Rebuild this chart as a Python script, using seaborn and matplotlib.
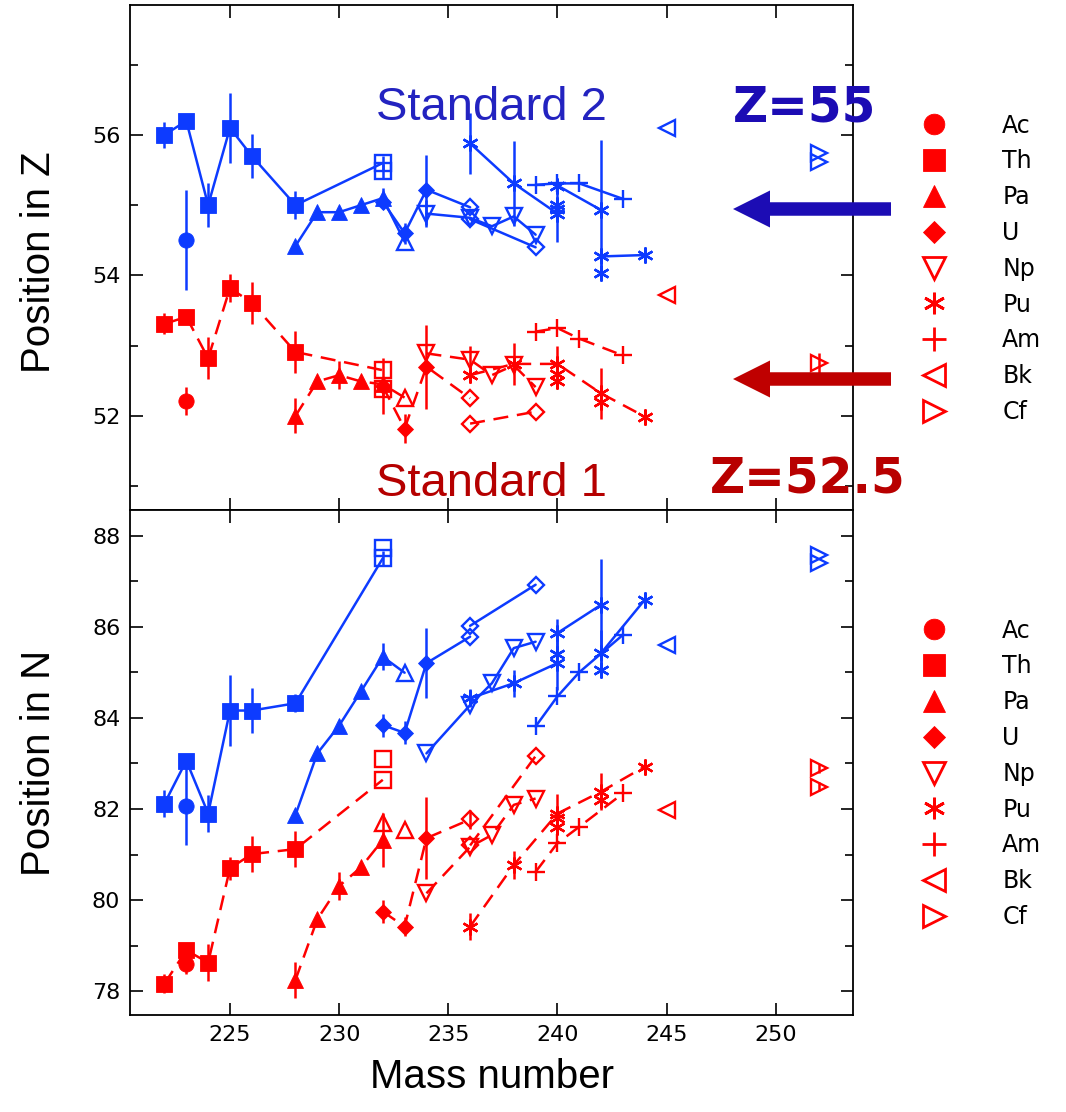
import matplotlib
matplotlib.use("Agg")
import matplotlib.pyplot as plt
import seaborn as sns
import pandas as pd
from matplotlib.lines import Line2D
from matplotlib.patches import FancyArrow
from matplotlib.ticker import MultipleLocator

sns.set_style("ticks")
plt.rcParams["font.family"] = ["DejaVu Sans"]
plt.rcParams["text.color"] = "black"
plt.rcParams["axes.labelcolor"] = "black"
plt.rcParams["xtick.color"] = "black"
plt.rcParams["ytick.color"] = "black"

# ------------------------------------------------------------------ data
elements = ["Ac", "Th", "Pa", "U", "Np", "Pu", "Am", "Bk", "Cf"]
x_ticks = [225, 230, 235, 240, 245, 250]
z_ticks = [52, 54, 56]
n_ticks = [78, 80, 82, 84, 86, 88]

# ---- Position in Z, Standard 2 (blue)
zb_th_m = [222, 223, 224, 225, 226, 228, 232]
zb_th_v = [56.0, 56.2, 55.0, 56.1, 55.7, 55.0, 55.6]
zb_th_e = [0.18, 0, 0.31, 0.5, 0.31, 0.2, 0.1]
zb_th_o = [0, 0, 0, 0, 0, 0, 1]
zb_th2_m, zb_th2_v, zb_th2_e = [232], [55.48], [0.1]
zb_ac_m, zb_ac_v, zb_ac_e = [223], [54.5], [0.71]
zb_pa_m = [228, 229, 230, 231, 232, 233]
zb_pa_v = [54.42, 54.9, 54.9, 55.0, 55.1, 54.48]
zb_pa_e = [0, 0, 0, 0, 0.15, 0]
zb_pa_o = [0, 0, 0, 0, 0, 1]
zb_u_m = [232, 233, 234, 236]
zb_u_v = [55.05, 54.6, 55.22, 54.97]
zb_u_e = [0, 0.15, 0.5, 0]
zb_u_o = [0, 0, 0, 1]
zb_u2_m, zb_u2_v = [236, 239], [54.8, 54.4]
zb_np_m = [234, 236, 237, 238, 239]
zb_np_v = [54.88, 54.82, 54.7, 54.84, 54.58]
zb_np_e = [0.19, 0, 0, 0, 0]
zb_pu_m, zb_pu_v, zb_pu_e = [236, 238, 240], [55.88, 55.31, 54.88], [0.43, 0.6, 0.4]
zb_pu2_m, zb_pu2_v, zb_pu2_e = [240, 242], [55.28, 54.93], [0, 1.0]
zb_pu3_m, zb_pu3_v = [242, 244], [54.27, 54.29]
zb_pu4_m, zb_pu4_v = [240, 240, 242], [55.0, 54.95, 54.03]
zb_am_m, zb_am_v = [239, 240, 241, 243], [55.29, 55.31, 55.31, 55.09]
zb_bk_m, zb_bk_v = [245], [56.1]
zb_cf_m, zb_cf_v = [252, 252], [55.74, 55.62]

# ---- Position in Z, Standard 1 (red)
zr_th_m = [222, 223, 224, 225, 226, 228, 232]
zr_th_v = [53.31, 53.41, 52.82, 53.82, 53.61, 52.91, 52.65]
zr_th_e = [0.15, 0, 0.3, 0.2, 0.3, 0.3, 0]
zr_th_o = [0, 0, 0, 0, 0, 0, 1]
zr_th2_m, zr_th2_v, zr_th2_e = [232], [52.38], [0.1]
zr_ac_m, zr_ac_v, zr_ac_e = [223], [52.21], [0.2]
zr_pa_m = [228, 229, 230, 231, 232, 233]
zr_pa_v = [52.0, 52.49, 52.58, 52.49, 52.45, 52.26]
zr_pa_e = [0.25, 0, 0.2, 0, 0, 0]
zr_pa_o = [0, 0, 0, 0, 0, 1]
zr_u_m = [232, 233, 234, 236]
zr_u_v = [52.42, 51.82, 52.7, 52.25]
zr_u_e = [0.4, 0.2, 0.6, 0]
zr_u_o = [0, 0, 0, 1]
zr_u2_m, zr_u2_v = [236, 239], [51.89, 52.06]
zr_np_m = [234, 236, 237, 238, 239]
zr_np_v = [52.89, 52.8, 52.58, 52.72, 52.41]
zr_np_e = [0, 0.2, 0, 0, 0]
zr_pu_m = [236, 238, 240, 242, 244]
zr_pu_v = [52.58, 52.74, 52.74, 52.32, 51.99]
zr_pu_e = [0, 0.3, 0.25, 0.36, 0]
zr_pu2_m, zr_pu2_v = [240, 240, 242], [52.6, 52.5, 52.2]
zr_am_m, zr_am_v = [239, 240, 241, 243], [53.2, 53.25, 53.1, 52.86]
zr_bk_m, zr_bk_v = [245], [53.72]
zr_cf_m, zr_cf_v, zr_cf_e = [252], [52.75], [0.15]

# ---- Position in N, Standard 2 (blue)
nb_th_m = [222, 223, 224, 225, 226, 228, 232]
nb_th_v = [82.12, 83.06, 81.9, 84.16, 84.16, 84.32, 87.5]
nb_th_e = [0.3, 0, 0.4, 0.77, 0.5, 0.2, 0.15]
nb_th_o = [0, 0, 0, 0, 0, 0, 1]
nb_th2_m, nb_th2_v = [232], [87.72]
nb_ac_m, nb_ac_v, nb_ac_e = [223], [82.07], [0.87]
nb_pa_m = [228, 229, 230, 231, 232, 233]
nb_pa_v = [81.87, 83.22, 83.83, 84.58, 85.34, 84.99]
nb_pa_e = [0, 0, 0, 0, 0.3, 0]
nb_pa_o = [0, 0, 0, 0, 0, 1]
nb_u_m = [232, 233, 234, 236]
nb_u_v = [83.84, 83.67, 85.2, 85.78]
nb_u_e = [0.25, 0.25, 0.77, 0]
nb_u_o = [0, 0, 0, 1]
nb_u2_m, nb_u2_v = [236, 239], [86.02, 86.92]
nb_np_m = [234, 236, 237, 238, 239]
nb_np_v = [83.22, 84.28, 84.76, 85.53, 85.67]
nb_pu_m, nb_pu_v, nb_pu_e = [236, 238, 240], [84.43, 84.76, 85.2], [0.2, 0.3, 0.6]
nb_pu2_m, nb_pu2_v, nb_pu2_e = [240, 242], [85.86, 86.48], [0.3, 1.0]
nb_pu3_m, nb_pu3_v, nb_pu3_e = [242, 244], [85.42, 86.59], [0.5, 0]
nb_pu4_m, nb_pu4_v = [240, 242], [85.4, 85.05]
nb_am_m, nb_am_v = [239, 240, 241, 243], [83.81, 84.47, 85.0, 85.82]
nb_bk_m, nb_bk_v = [245], [85.6]
nb_cf_m, nb_cf_v = [252, 252], [87.58, 87.39]

# ---- Position in N, Standard 1 (red)
nr_th_m = [222, 223, 224, 225, 226, 228, 232]
nr_th_v = [78.17, 78.9, 78.63, 80.7, 81.01, 81.12, 82.64]
nr_th_e = [0.2, 0, 0.4, 0.25, 0.4, 0.4, 0]
nr_th_o = [0, 0, 0, 0, 0, 0, 1]
nr_th2_m, nr_th2_v = [232], [83.09]
nr_ac_m, nr_ac_v, nr_ac_e = [223], [78.59], [0.2]
nr_pa_m = [228, 229, 230, 231, 232]
nr_pa_v = [78.25, 79.58, 80.31, 80.72, 81.32]
nr_pa_e = [0.4, 0, 0.3, 0, 0.6]
nr_pa2_m, nr_pa2_v = [232, 233], [81.69, 81.54]
nr_u_m = [232, 233, 234, 236]
nr_u_v = [79.75, 79.42, 81.36, 81.77]
nr_u_e = [0.25, 0.2, 0.9, 0.2]
nr_u_o = [0, 0, 0, 1]
nr_u2_m, nr_u2_v = [236, 239], [81.2, 83.16]
nr_np_m = [234, 236, 237, 238, 239]
nr_np_v = [80.15, 81.17, 81.43, 82.09, 82.23]
nr_pu_m = [236, 238, 240, 242, 244]
nr_pu_v = [79.42, 80.77, 81.9, 82.38, 82.93]
nr_pu_e = [0.3, 0.3, 0.42, 0.4, 0]
nr_pu2_m, nr_pu2_v = [240, 240, 242], [81.8, 81.6, 82.2]
nr_am_m, nr_am_v = [239, 240, 241, 243], [80.62, 81.25, 81.61, 82.34]
nr_bk_m, nr_bk_v = [245], [81.98]
nr_cf_m, nr_cf_v, nr_cf_e = [252, 252], [82.89, 82.49], [0.1, 0.1]

# ------------------------------------------------------------------ styles
BLUE = "#0d3bff"
RED = "#ff0000"
LW = 1.8
DASH = (0, (6, 3.5))
AST = (6, 2, 0)
MARK = {"Ac": ("o", 11), "Th": ("s", 11.5), "Pa": ("^", 12), "U": ("D", 8.5),
        "Np": ("v", 11.5), "Pu": (AST, 11.5), "Am": ("+", 12.5), "Bk": ("<", 11.5),
        "Cf": (">", 11.5)}
OPEN_EL = {"Np", "Bk", "Cf"}


def S(el, m, v, e=None, o=None, line=True):
    if o is None:
        o = [1 if el in OPEN_EL else 0] * len(m)
    return dict(el=el, m=m, v=v, e=e, o=o, line=line)


top_blue = [
    S("Th", zb_th_m, zb_th_v, zb_th_e, zb_th_o),
    S("Th", zb_th2_m, zb_th2_v, zb_th2_e, [1], line=False),
    S("Ac", zb_ac_m, zb_ac_v, zb_ac_e),
    S("Pa", zb_pa_m, zb_pa_v, zb_pa_e, zb_pa_o),
    S("U", zb_u_m, zb_u_v, zb_u_e, zb_u_o),
    S("U", zb_u2_m, zb_u2_v, None, [1, 1]),
    S("Np", zb_np_m, zb_np_v, zb_np_e),
    S("Pu", zb_pu_m, zb_pu_v, zb_pu_e),
    S("Pu", zb_pu2_m, zb_pu2_v, zb_pu2_e),
    S("Pu", zb_pu3_m, zb_pu3_v),
    S("Pu", zb_pu4_m, zb_pu4_v, line=False),
    S("Am", zb_am_m, zb_am_v),
    S("Bk", zb_bk_m, zb_bk_v),
    S("Cf", zb_cf_m, zb_cf_v, line=False),
]
top_red = [
    S("Th", zr_th_m, zr_th_v, zr_th_e, zr_th_o),
    S("Th", zr_th2_m, zr_th2_v, zr_th2_e, [1], line=False),
    S("Ac", zr_ac_m, zr_ac_v, zr_ac_e),
    S("Pa", zr_pa_m, zr_pa_v, zr_pa_e, zr_pa_o),
    S("U", zr_u_m, zr_u_v, zr_u_e, zr_u_o),
    S("U", zr_u2_m, zr_u2_v, None, [1, 1]),
    S("Np", zr_np_m, zr_np_v, zr_np_e),
    S("Pu", zr_pu_m, zr_pu_v, zr_pu_e),
    S("Pu", zr_pu2_m, zr_pu2_v, line=False),
    S("Am", zr_am_m, zr_am_v),
    S("Bk", zr_bk_m, zr_bk_v),
    S("Cf", zr_cf_m, zr_cf_v, zr_cf_e),
]
bot_blue = [
    S("Th", nb_th_m, nb_th_v, nb_th_e, nb_th_o),
    S("Th", nb_th2_m, nb_th2_v, None, [1], line=False),
    S("Ac", nb_ac_m, nb_ac_v, nb_ac_e),
    S("Pa", nb_pa_m, nb_pa_v, nb_pa_e, nb_pa_o),
    S("U", nb_u_m, nb_u_v, nb_u_e, nb_u_o),
    S("U", nb_u2_m, nb_u2_v, None, [1, 1]),
    S("Np", nb_np_m, nb_np_v),
    S("Pu", nb_pu_m, nb_pu_v, nb_pu_e),
    S("Pu", nb_pu2_m, nb_pu2_v, nb_pu2_e),
    S("Pu", nb_pu3_m, nb_pu3_v, nb_pu3_e),
    S("Pu", nb_pu4_m, nb_pu4_v, line=False),
    S("Am", nb_am_m, nb_am_v),
    S("Bk", nb_bk_m, nb_bk_v),
    S("Cf", nb_cf_m, nb_cf_v, line=False),
]
bot_red = [
    S("Th", nr_th_m, nr_th_v, nr_th_e, nr_th_o),
    S("Th", nr_th2_m, nr_th2_v, None, [1], line=False),
    S("Ac", nr_ac_m, nr_ac_v, nr_ac_e),
    S("Pa", nr_pa_m, nr_pa_v, nr_pa_e),
    S("Pa", nr_pa2_m, nr_pa2_v, None, [1, 1], line=False),
    S("U", nr_u_m, nr_u_v, nr_u_e, nr_u_o),
    S("U", nr_u2_m, nr_u2_v, None, [1, 1]),
    S("Np", nr_np_m, nr_np_v),
    S("Pu", nr_pu_m, nr_pu_v, nr_pu_e),
    S("Pu", nr_pu2_m, nr_pu2_v, line=False),
    S("Am", nr_am_m, nr_am_v),
    S("Bk", nr_bk_m, nr_bk_v),
    S("Cf", nr_cf_m, nr_cf_v, nr_cf_e, line=False),
]


def draw(ax, s, color, ls):
    m, v, e, o = s["m"], s["v"], s["e"], s["o"]
    if s["line"] and len(m) > 1:
        df = pd.DataFrame({"mass": m, "pos": v})
        sns.lineplot(data=df, x="mass", y="pos", ax=ax, estimator=None,
                     sort=False, color=color, lw=LW, linestyle=ls, zorder=2)
    if e is not None and any(e):
        ax.errorbar(m, v, yerr=e, fmt="none", ecolor=color, elinewidth=LW,
                    capsize=0, zorder=2)
    mk, ms = MARK[s["el"]]
    for flag in (0, 1):
        idx = [i for i in range(len(m)) if o[i] == flag]
        if not idx:
            continue
        unfilled = mk in ("+", AST)
        ax.plot([m[i] for i in idx], [v[i] for i in idx], ls="none", marker=mk,
                ms=ms, color=color, mfc=("none" if flag else color), mec=color,
                mew=(1.7 if (flag or unfilled) else 0.6), zorder=3)


# ------------------------------------------------------------------ figure
W, H = 1066, 1112
fig = plt.figure(figsize=(W / 100, H / 100), dpi=100)
ax1 = fig.add_axes([130 / W, 1 - 510 / H, 723 / W, 505 / H])
ax2 = fig.add_axes([130 / W, 1 - 1015 / H, 723 / W, 505 / H])

for s in top_red:
    draw(ax1, s, RED, DASH)
for s in top_blue:
    draw(ax1, s, BLUE, "-")
for s in bot_red:
    draw(ax2, s, RED, DASH)
for s in bot_blue:
    draw(ax2, s, BLUE, "-")

for ax in (ax1, ax2):
    ax.set_xlim(220.42, 253.54)
    ax.set_xticks(x_ticks)
    ax.tick_params(which="both", direction="in", top=True, right=True,
                   width=1.2, labelsize=16, pad=7, colors="black")
    ax.tick_params(which="major", length=9)
    ax.tick_params(which="minor", length=6)
    ax.yaxis.set_minor_locator(MultipleLocator(1))
    for sp in ax.spines.values():
        sp.set_linewidth(1.3)
        sp.set_color("black")

ax1.set_ylim(50.66, 57.85)
ax1.set_yticks(z_ticks)
ax1.tick_params(axis="x", labelbottom=False)
ax1.set_xlabel("")
ax2.set_ylim(77.48, 88.56)
ax2.set_yticks(n_ticks)

lab_font = dict(family=["Liberation Sans", "DejaVu Sans"], fontsize=29,
                color="black")
ax1.set_ylabel("Position in Z", **lab_font)
ax2.set_ylabel("Position in N", **lab_font)
ax2.set_xlabel("Mass number", **lab_font)
ax1.yaxis.set_label_coords(-0.10, 0.49)
ax2.yaxis.set_label_coords(-0.10, 0.50)
ax2.xaxis.set_label_coords(0.50, -0.085)

# legends
for ax in (ax1, ax2):
    handles = []
    for el in elements:
        mk, ms = MARK[el]
        op = el in OPEN_EL
        handles.append(Line2D([], [], ls="none", marker=mk, ms=ms * 1.35,
                              color=RED, mec=RED,
                              mfc=("none" if op else RED),
                              mew=(2.0 if (op or mk in ("+", AST)) else 0.6)))
    ax.legend(handles, elements, loc="upper left", bbox_to_anchor=(1.079, 0.785),
              frameon=False, borderaxespad=0, borderpad=0, handlelength=2.0,
              handletextpad=1.9, labelspacing=0.5, fontsize=17,
              labelcolor="black")

# annotations
ax1.text(237.0, 56.21, "Standard 2", color="#2323c0", fontsize=34,
         family=["Liberation Sans", "DejaVu Sans"], ha="center", va="baseline")
ax1.text(237.0, 50.86, "Standard 1", color="#b50000", fontsize=34,
         family=["Liberation Sans", "DejaVu Sans"], ha="center", va="baseline")
fig.text(805 / W, 1 - 122 / H, "Z=55", fontsize=35, weight="bold",
         color="#1c0cb4", ha="center", va="baseline")
fig.text(808 / W, 1 - 494 / H, "Z=52.5", fontsize=35, weight="bold",
         color="#b80000", ha="center", va="baseline")

for ypix, col in ((209, "#1c0cb4"), (379, "#bf0000")):
    arr = FancyArrow(891 / 100, (H - ypix) / 100, -1.58, 0, width=0.135,
                     head_width=0.37, head_length=0.37,
                     length_includes_head=True, color=col, lw=0,
                     transform=fig.dpi_scale_trans)
    fig.add_artist(arr)

fig.savefig("out.png", dpi=100)
